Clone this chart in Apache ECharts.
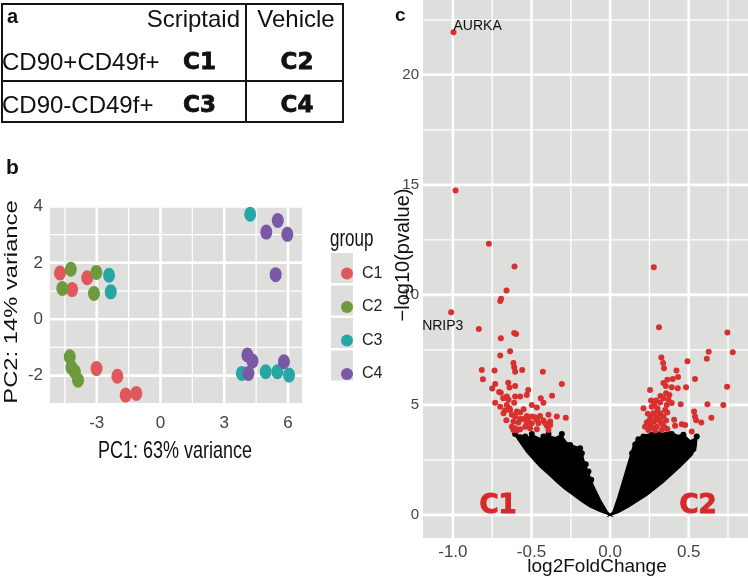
<!DOCTYPE html>
<html>
<head>
<meta charset="utf-8">
<script src="https://cdn.jsdelivr.net/npm/echarts@6.0.0/dist/echarts.min.js"></script>
<style>
html,body{margin:0;padding:0;background:#fff;}
#chart{width:748px;height:579px;}
</style>
</head>
<body>
<div id="chart"></div>
<script>
// ---------- Panel a: table ----------
const tableColHeaders = ['Scriptaid', 'Vehicle'];
const tableRowHeaders = ['CD90+CD49f+', 'CD90-CD49f+'];
const tableCells = [['C1', 'C2'], ['C3', 'C4']];

// ---------- Panel b: PCA ----------
const pcaGroups = ['C1', 'C2', 'C3', 'C4'];
const pcaC1 = [[-4.73,1.64],[-4.16,1.05],[-3.45,1.47],[-3.01,-1.75],[-2.03,-2.02],[-1.64,-2.69],[-1.14,-2.63]];
const pcaC2 = [[-4.22,1.77],[-4.62,1.09],[-3.02,1.66],[-3.13,0.91],[-4.27,-1.33],[-4.19,-1.71],[-4.03,-1.86],[-3.88,-2.16]];
const pcaC3 = [[-2.42,1.56],[-2.34,0.97],[4.22,3.72],[3.83,-1.92],[4.95,-1.86],[5.5,-1.86],[6.05,-1.98]];
const pcaC4 = [[5.52,3.50],[4.98,3.09],[5.97,3.01],[5.42,1.58],[4.09,-1.27],[4.33,-1.48],[4.14,-1.92],[5.81,-1.51]];
const pcaXTicks = [-3, 0, 3, 6];
const pcaXMinor = [-4.5, -1.5, 1.5, 4.5];
const pcaYTicks = [-2, 0, 2, 4];
const pcaYMinor = [-1, 1, 3];

// ---------- Panel c: volcano ----------
const volcanoLabeled = [
  {name: 'AURKA', value: [-0.996, 21.94]},
  {name: 'NRIP3', value: [-1.011, 9.21]}
];
const volcanoRed = [
  [-0.983,14.74],[-0.771,12.32],[-0.608,11.29],[-0.659,10.2],[-0.693,9.82],[-0.699,9.72],
  [-0.835,8.45],[-0.61,8.27],[-0.598,8.22],[-0.695,8.03],[-0.636,7.44],[-0.699,7.24],[-0.615,6.9],
  [-0.61,6.71],[-0.816,6.59],[-0.735,6.56],[-0.604,6.51],[-0.559,6.59],[-0.428,6.51],[-0.809,6.17],
  [-0.648,6.01],[-0.307,5.95],[-0.731,5.95],[-0.604,5.86],[-0.75,5.74],[-0.64,5.79],[-0.521,5.68],
  [-0.706,5.59],[-0.695,5.55],[-0.53,5.45],[-0.369,5.42],[-0.657,5.38],[-0.604,5.38],[-0.572,5.38],
  [-0.441,5.3],[-0.646,5.23],[-0.731,5.1],[-0.424,5.1],[-0.657,5.0],[-0.498,5.0],[-0.699,4.92],
  [-0.466,4.88],[-0.668,4.74],[-0.636,4.77],[-0.593,4.7],[-0.572,4.65],[-0.678,4.62],[-0.625,4.55],
  [-0.604,4.47],[-0.53,4.5],[-0.498,4.47],[-0.477,4.44],[-0.445,4.5],[-0.339,4.47],[-0.282,4.42],
  [-0.392,4.55],[-0.572,4.36],[-0.553,4.36],[-0.521,4.36],[-0.466,4.32],[-0.424,4.29],[-0.381,4.24],
  [-0.615,4.24],[-0.583,4.2],[-0.53,4.17],[-0.498,4.17],[-0.456,4.17],[-0.413,4.17],[-0.402,4.05],
  [-0.381,4.09],[-0.625,4.01],[-0.604,3.94],[-0.572,3.89],[-0.54,4.01],[-0.615,3.86],[-0.593,3.83],
  [-0.509,3.94],[-0.466,3.89],[-0.392,3.86],[-0.66,4.3],[-0.64,4.85],[-0.61,5.1],[-0.55,4.8],[-0.68,5.3],
  [0.278,11.26],[0.311,8.53],[0.746,8.29],[0.627,7.42],[0.78,7.39],[0.615,7.1],[0.326,7.15],[0.337,6.9],
  [0.492,6.98],[0.343,6.67],[0.422,6.56],[0.432,6.27],[0.398,6.18],[0.364,6.14],[0.54,6.18],[0.339,5.99],
  [0.354,5.86],[0.392,5.8],[0.43,5.76],[0.483,5.8],[0.744,5.82],[0.254,5.68],[0.356,5.53],[0.377,5.45],
  [0.339,5.3],[0.371,5.23],[0.26,5.2],[0.292,5.2],[0.318,5.11],[0.392,5.08],[0.449,5.03],[0.619,5.03],
  [0.72,4.99],[0.212,4.85],[0.265,4.92],[0.301,4.85],[0.35,4.77],[0.275,4.62],[0.318,4.62],[0.364,4.65],
  [0.534,4.7],[0.259,4.44],[0.297,4.44],[0.339,4.47],[0.54,4.47],[0.644,4.41],[0.407,4.32],[0.547,4.3],
  [0.58,4.2],[0.233,4.2],[0.28,4.24],[0.318,4.24],[0.356,4.29],[0.222,4.01],[0.259,4.05],[0.297,4.01],
  [0.339,4.05],[0.413,4.05],[0.456,4.12],[0.477,4.09],[0.243,3.86],[0.286,3.83],[0.329,3.86],[0.364,3.9],
  [0.519,3.79],[0.31,4.35],[0.33,4.15],[0.27,3.95],[0.35,3.95],[0.25,4.3],[0.3,4.7],[0.28,5.0],[0.32,5.4],
  [0.36,5.0],[0.24,4.6]
];
const volcanoBlack = [
  [-0.604,3.68],[-0.572,3.48],[-0.54,3.56],[-0.498,3.68],[-0.466,3.41],[-0.424,3.56],[-0.392,3.68],
  [-0.36,3.26],[-0.307,3.68],[-0.297,3.26],[-0.254,3.18],[-0.191,3.03],[-0.18,2.8],[-0.138,1.97],
  [-0.195,2.42],[-0.275,2.8],[-0.339,3.1],[-0.32,3.5],[-0.45,3.3],[-0.52,3.3],[-0.155,2.3],[-0.12,1.6],[-0.2,2.6],
  [0.18,3.44],[0.212,3.56],[0.265,3.64],[0.318,3.68],[0.36,3.64],[0.392,3.68],[0.445,3.44],[0.466,3.64],
  [0.551,3.56],[0.519,3.26],[0.424,3.26],[0.498,3.1],[0.466,2.8],[0.509,2.95],[0.424,3.03],[0.36,2.5],
  [0.16,3.2],[0.14,2.8],[0.25,3.5],[0.3,3.55],[0.53,3.0],[0.48,2.6]
];
// outlines of the dense non-significant cloud
const cloudLeft = [
  [0,0],[-0.064,0.17],[-0.127,0.38],[-0.18,0.62],[-0.233,0.91],[-0.29,1.2],[-0.339,1.51],[-0.39,1.85],
  [-0.445,2.2],[-0.49,2.55],[-0.53,2.88],[-0.572,3.3],[-0.6,3.6],[-0.57,3.62],[-0.53,3.5],[-0.49,3.6],
  [-0.445,3.45],[-0.40,3.6],[-0.35,3.5],[-0.31,3.6],[-0.28,3.3],[-0.24,3.15],[-0.20,3.05],[-0.18,2.85],
  [-0.17,2.5],[-0.138,1.89],[-0.106,1.29],[-0.064,0.68],[-0.021,0.15],[0,0]
];
const cloudRight = [
  [0,0],[0.021,0.15],[0.053,0.83],[0.085,1.59],[0.116,2.35],[0.148,3.1],[0.17,3.41],[0.212,3.6],
  [0.275,3.7],[0.33,3.68],[0.381,3.75],[0.43,3.6],[0.466,3.64],[0.51,3.35],[0.55,3.5],[0.545,3.1],
  [0.519,2.73],[0.445,2.2],[0.339,1.51],[0.233,0.91],[0.116,0.38],[0.05,0.12],[0,0]
];
const volXTicks = [-1, -0.5, 0, 0.5];
const volXMinor = [-0.75, -0.25, 0.25, 0.75];
const volYTicks = [0, 5, 10, 15, 20];
const volYMinor = [2.5, 7.5, 12.5, 17.5, 22.5];

// ---------- styles ----------
const FONT = "'Liberation Sans', Arial, sans-serif";
const PANEL_BG = '#DEDEDC';
const pcaColors = {C1: '#E0585B', C2: '#6D9A3B', C3: '#27A6A6', C4: '#7A58A6'};
const RED = '#D7302E';
const ELLIPSE = 'path://M0,-1A1,1,0,1,1,0,1A1,1,0,1,1,0,-1Z';
const pcaData = {C1: pcaC1, C2: pcaC2, C3: pcaC3, C4: pcaC4};
const cloudPolys = [cloudLeft, cloudRight];

function valueAxis(grid, min, max, ticks, opt) {
  return {
    gridIndex: grid, type: 'value', min: min, max: max,
    axisLine: {show: false},
    axisTick: {show: true, length: opt.tickLen, customValues: ticks, lineStyle: {color: '#333', width: 1}},
    axisLabel: {customValues: ticks, color: '#444', fontSize: opt.fs, fontFamily: FONT, margin: opt.margin,
      formatter: opt.fmt || (v => String(v))},
    splitLine: {show: false}
  };
}
// white ggplot-style grid lines: a custom series placing each line through the axes
function gridLineSeries(gi, xMaj, xMin, yMaj, yMin) {
  const specs = [].concat(
    xMin.map(v => ({d: 'x', v: v, w: 1.3})), yMin.map(v => ({d: 'y', v: v, w: 1.3})),
    xMaj.map(v => ({d: 'x', v: v, w: 2.6})), yMaj.map(v => ({d: 'y', v: v, w: 2.6})));
  return {
    type: 'custom', xAxisIndex: gi, yAxisIndex: gi, z: 2, silent: true,
    data: specs.map(() => [0, 0]),
    renderItem: function (params, api) {
      const s = specs[params.dataIndex];
      const cs = params.coordSys;
      let shape;
      if (s.d === 'x') {
        const px = api.coord([s.v, 0])[0];
        shape = {x1: px, y1: cs.y, x2: px, y2: cs.y + cs.height};
      } else {
        const py = api.coord([0, s.v])[1];
        shape = {x1: cs.x, y1: py, x2: cs.x + cs.width, y2: py};
      }
      return {type: 'line', shape: shape, style: {stroke: '#ffffff', lineWidth: s.w}};
    }
  };
}

function t(text, x, y, font, extra) {
  const e = Object.assign({type: 'text', x: x, y: y, z: 20, silent: true}, extra || {});
  e.style = Object.assign({text: text, font: font, fill: '#111',
    align: 'left', verticalAlign: 'middle', textAlign: 'left', textVerticalAlign: 'middle'}, (extra && extra.style) || {});
  return e;
}
function aligned(el, a) { el.style.align = a; el.style.textAlign = a; return el; }

const tableFont = '24px ' + FONT;
const heavyFont = 'bold 23px "DejaVu Sans", sans-serif';
const heavy = {style: {stroke: '#111', lineWidth: 0.8}};
const redHeavy = {style: {fill: '#D7282C', stroke: '#D7282C', lineWidth: 1}};
const graphics = [
  // table
  {type: 'rect', z: 20, silent: true, shape: {x: 2, y: 4, width: 341, height: 118}, style: {fill: 'none', stroke: '#151515', lineWidth: 2}},
  {type: 'line', z: 20, silent: true, shape: {x1: 246, y1: 4, x2: 246, y2: 122}, style: {stroke: '#151515', lineWidth: 2}},
  {type: 'line', z: 20, silent: true, shape: {x1: 2, y1: 81, x2: 343, y2: 81}, style: {stroke: '#151515', lineWidth: 2}},
  t('a', 7, 17, 'bold 20px ' + FONT),
  aligned(t(tableColHeaders[0], 240, 20, tableFont), 'right'),
  aligned(t(tableColHeaders[1], 296, 20, tableFont), 'center'),
  t(tableRowHeaders[0], 2, 63, tableFont),
  t(tableRowHeaders[1], 2, 106, tableFont),
  t(tableCells[0][0], 183, 63, heavyFont, heavy),
  aligned(t(tableCells[0][1], 297, 63, heavyFont, heavy), 'center'),
  t(tableCells[1][0], 183, 106, heavyFont, heavy),
  aligned(t(tableCells[1][1], 297, 106, heavyFont, heavy), 'center'),
  // panel b
  t('b', 6, 168, 'bold 21px ' + FONT),
  aligned(t('PC1: 63% variance', 175, 452, '18px ' + FONT, {scaleY: 1.3}), 'center'),
  aligned(t('PC2: 14% variance', 12, 302, '19px ' + FONT, {rotation: Math.PI / 2, scaleX: 1.25}), 'center'),
  t('group', 330, 239, '17px ' + FONT, {scaleY: 1.45}),
  // panel c
  t('c', 395, 16, 'bold 19px ' + FONT),
  aligned(t('log2FoldChange', 597, 567, '19px ' + FONT), 'center'),
  aligned(t('\u2212log10(pvalue)', 403, 255, '20px ' + FONT, {rotation: Math.PI / 2}), 'center'),
  aligned(t('C1', 498, 506, 'bold 26px "DejaVu Sans", sans-serif', redHeavy), 'center'),
  aligned(t('C2', 698, 506, 'bold 26px "DejaVu Sans", sans-serif', redHeavy), 'center')
];
// legend key backgrounds
for (let i = 0; i < 4; i++) {
  graphics.push({type: 'rect', z: 1, silent: true, shape: {x: 331, y: 253 + i * 32.5, width: 22, height: 30}, style: {fill: PANEL_BG}});
}

const chart = echarts.init(document.getElementById('chart'), null, {renderer: 'canvas'});
chart.setOption({
  animation: false,
  backgroundColor: '#fff',
  grid: [
    {left: 50, top: 205, width: 252, height: 198, show: true, backgroundColor: PANEL_BG, borderWidth: 0, containLabel: false},
    {left: 423, top: 0, width: 325, height: 538, show: true, backgroundColor: PANEL_BG, borderWidth: 0, containLabel: false}
  ],
  xAxis: [
    valueAxis(0, -5.2, 6.66, pcaXTicks, {tickLen: 6, fs: 17, margin: 12}),
    valueAxis(1, -1.19, 0.877, volXTicks, {tickLen: 3, fs: 17, margin: 6, fmt: v => v.toFixed(1)})
  ],
  yAxis: [
    valueAxis(0, -2.97, 4.05, pcaYTicks, {tickLen: 4, fs: 17, margin: 7}),
    valueAxis(1, -1.05, 23.4, volYTicks, {tickLen: 2, fs: 15, margin: 4})
  ],
  legend: {
    data: pcaGroups, orient: 'vertical', left: 336, top: 260.5, z: 5,
    itemWidth: 12, itemHeight: 15, itemGap: 17.5, icon: ELLIPSE, selectedMode: false,
    textStyle: {fontSize: 16, fontFamily: FONT, color: '#222', lineHeight: 15, padding: [0, 0, 0, 4]}
  },
  graphic: graphics,
  series: [
    gridLineSeries(0, pcaXTicks, pcaXMinor, pcaYTicks, pcaYMinor),
    gridLineSeries(1, volXTicks, volXMinor, volYTicks, volYMinor),
    ...pcaGroups.map(g => ({
      name: g, type: 'scatter', xAxisIndex: 0, yAxisIndex: 0, data: pcaData[g],
      symbol: ELLIPSE, symbolSize: [12, 15], itemStyle: {color: pcaColors[g], opacity: 1}, z: 4, silent: true
    })),
    {
      name: 'cloud', type: 'custom', xAxisIndex: 1, yAxisIndex: 1, z: 3, silent: true,
      data: cloudPolys.map(() => [0, 0]),
      renderItem: function (params, api) {
        const pts = cloudPolys[params.dataIndex].map(p => api.coord(p));
        return {type: 'polygon', shape: {points: pts}, style: {fill: '#000', stroke: '#000', lineWidth: 2}};
      }
    },
    {
      name: 'ns', type: 'scatter', xAxisIndex: 1, yAxisIndex: 1, data: volcanoBlack,
      symbolSize: 6, itemStyle: {color: '#000', opacity: 1}, z: 4, silent: true
    },
    {
      name: 'sig', type: 'scatter', xAxisIndex: 1, yAxisIndex: 1,
      data: volcanoRed.concat(volcanoLabeled.map((d, i) => ({
        name: d.name, value: d.value,
        label: {show: true, formatter: '{b}', color: '#111', fontSize: 14, fontFamily: FONT,
          position: i === 0 ? [3, -10] : [-26, 10], align: 'left', verticalAlign: 'top'}
      }))),
      symbolSize: 6, itemStyle: {color: RED, opacity: 1}, z: 5, silent: true
    }
  ]
});
</script>
</body>
</html>
